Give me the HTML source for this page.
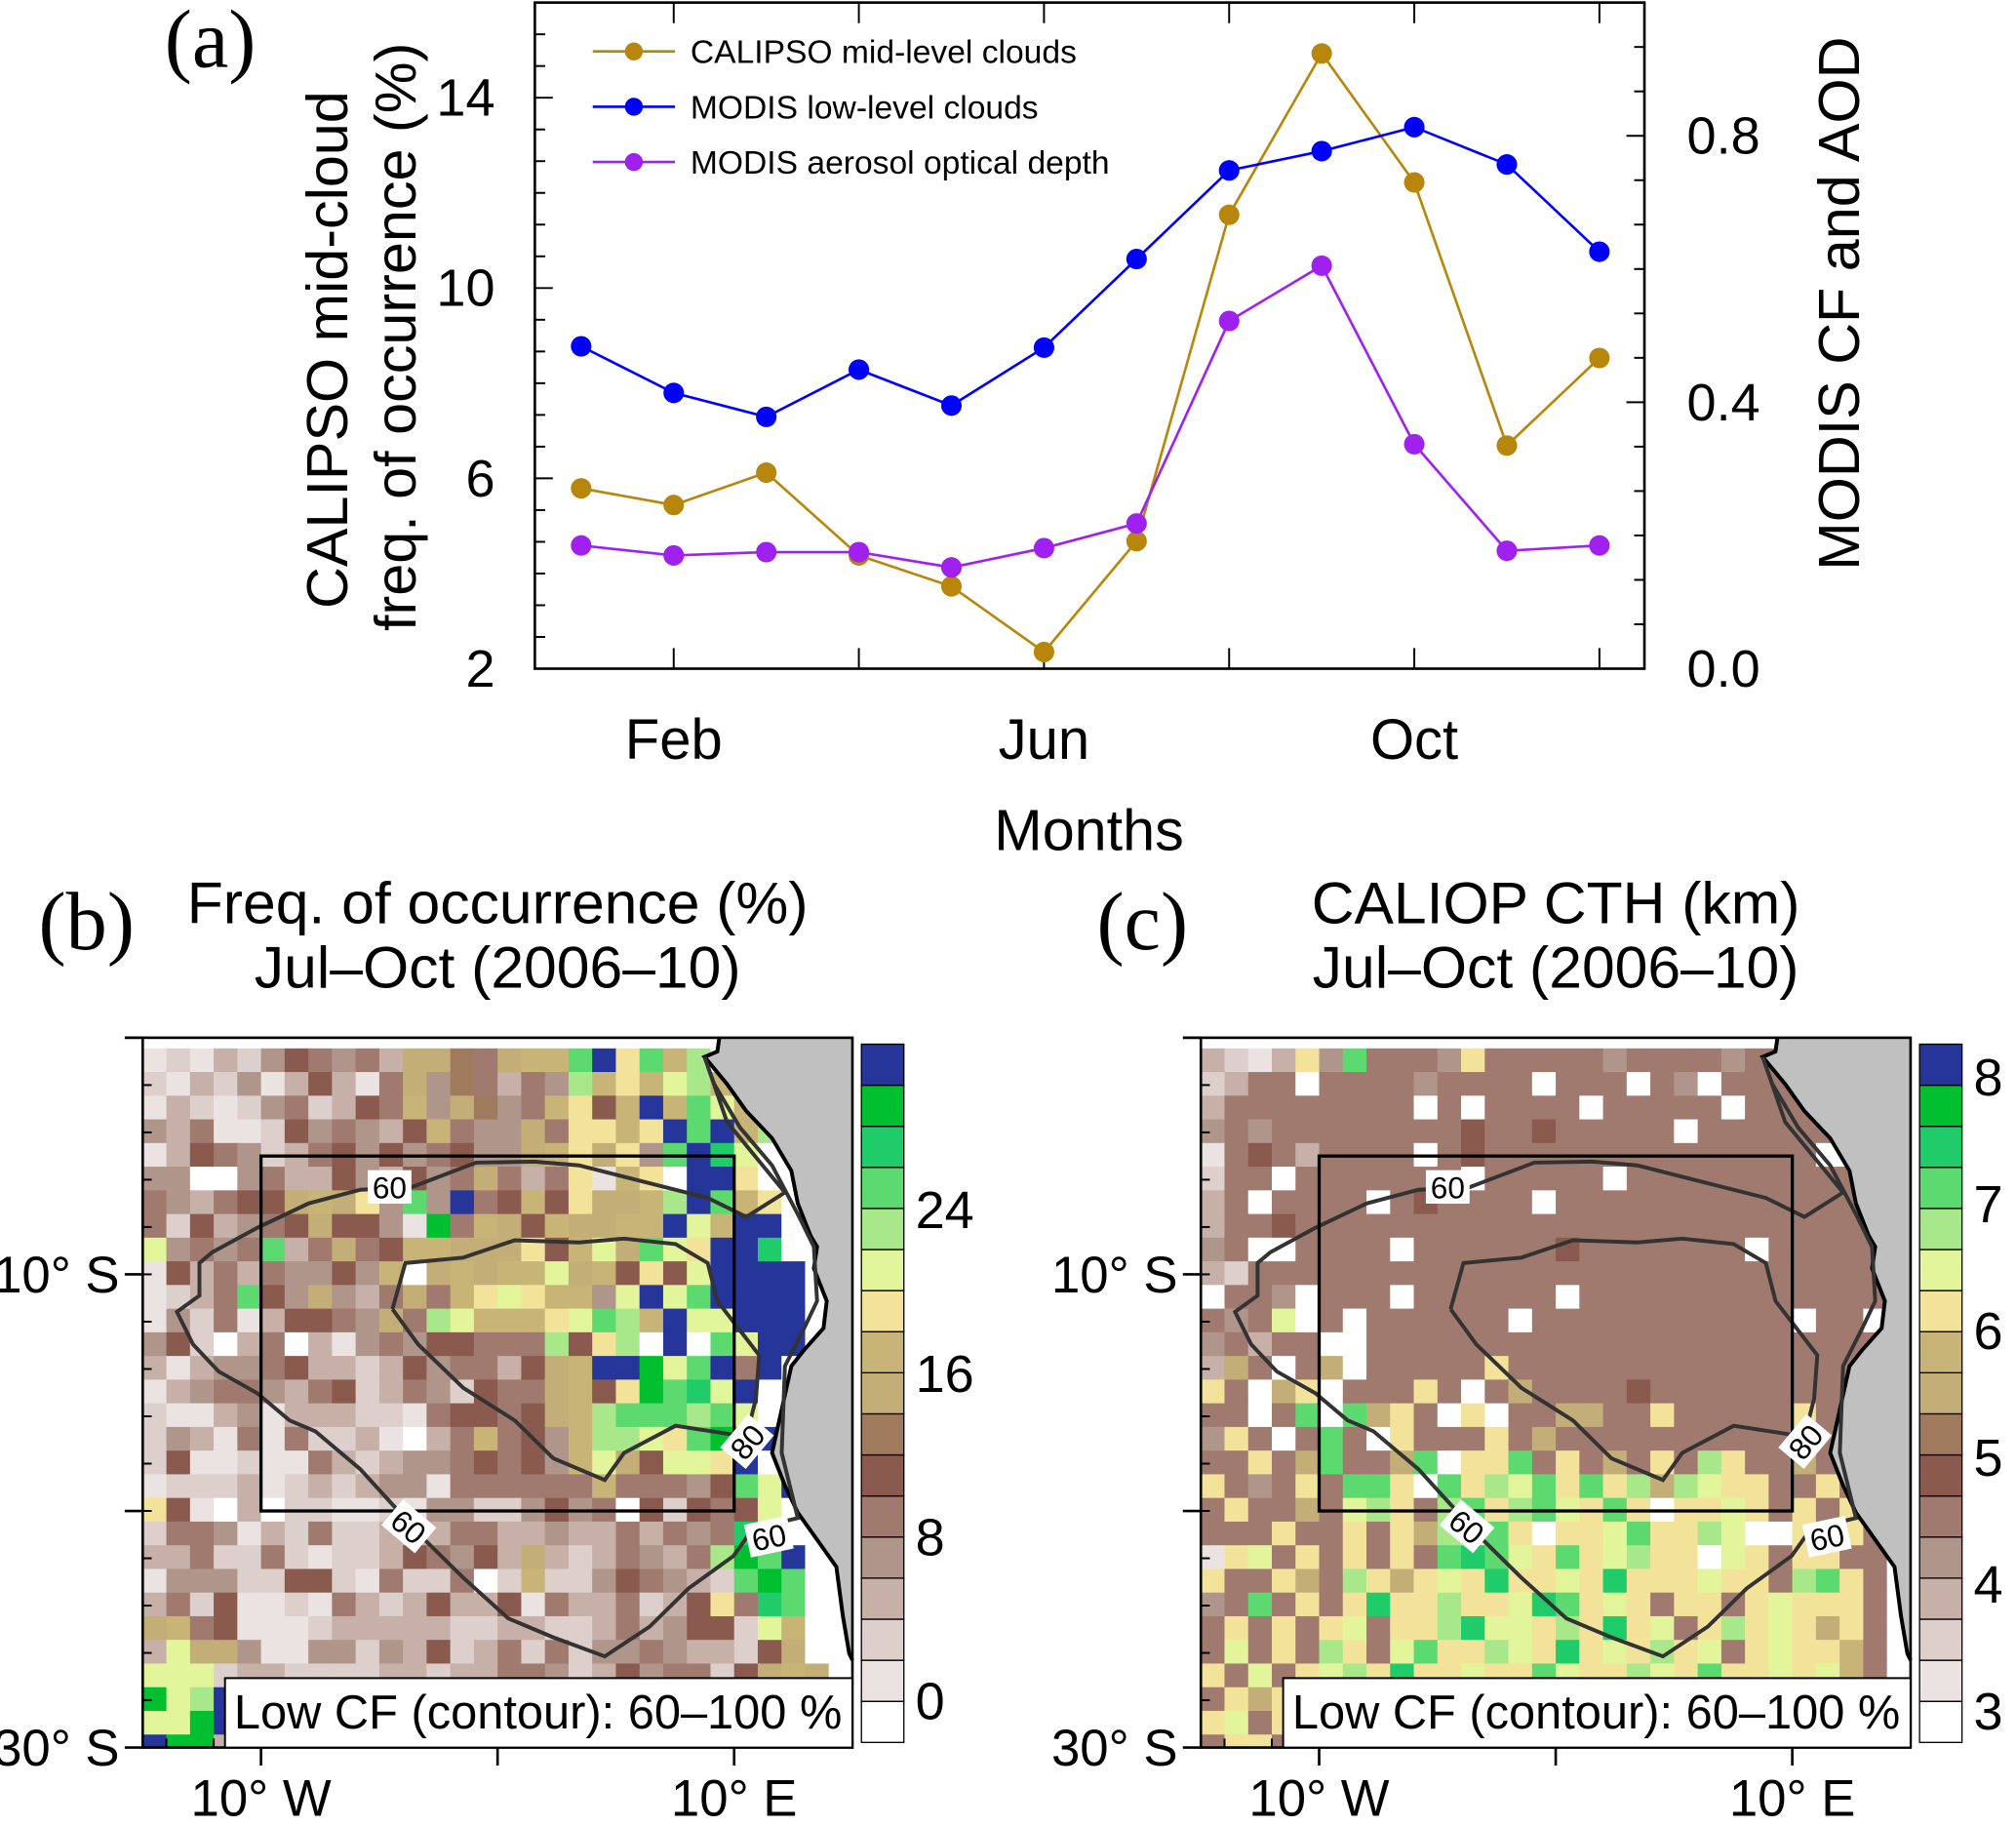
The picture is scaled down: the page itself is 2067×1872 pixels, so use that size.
<!DOCTYPE html>
<html><head><meta charset="utf-8"><style>
html,body{margin:0;padding:0;background:#fff;}
svg{display:block;font-family:"Liberation Sans",sans-serif;}
</style></head><body>
<svg id="fig" width="2067" height="1872" viewBox="0 0 1568 1420" preserveAspectRatio="none" xmlns="http://www.w3.org/2000/svg"></svg>
<script>
// ---------- Panel (a) data ----------
const months = ["Jan","Feb","Mar","Apr","May","Jun","Jul","Aug","Sep","Oct","Nov","Dec"];
const calipsoMid = [5.79,5.44,6.12,4.38,3.73,2.35,4.68,11.54,14.93,12.22,6.69,8.53];
const modisLowCF = [0.484,0.414,0.378,0.449,0.395,0.482,0.615,0.748,0.777,0.813,0.757,0.626];
const modisAOD = [0.185,0.170,0.175,0.175,0.152,0.181,0.218,0.522,0.605,0.337,0.177,0.185];
const leftTicks = [2,6,10,14];
const rightTicks = [0.0,0.4,0.8];
const monthLabels = ["Feb","Jun","Oct"];
// ---------- Panel (b)/(c) grid data (level index per 1° cell, rows from north) ----------
const freqRows = [
"121324654538875899dgad9c000000","213241363158475354c9a9bc9d0000","132124523659487459a69g9db90000",
"435112645436954485aa9agdg9c000","136542356464564489a8a4dgeb0000","440045336436458535a19a0gga0000",
"543566898a4d4g5696a889cgd9a000","526345686641f598698899gb9gg000","b4545d3585699888a69b8dbagge000",
"16353544649089899b896a6bgggg00","1235d648435859aba994bgbdgggg00","142513665485cb999abdc9gbbggg00",
"46203503145466555c6ac0g0dbgg00","3134456332364553689ggfbdg5g000","13455435623542655896afdebg0000",
"2113413332215665689cdddcdb0000","2431515223103595649ccbadfdg000","2611211532344565649b86bbag0000",
"1222312323441555555955546dbg00","a6103022112144224645062656b000","2554132522333553343353545ed000",
"335225212236546383235435cfdg00","1444226621522502922465432dfd00","352611215323633615335236a5ed00",
"89561112333332233223534662b900","3b8841144243623525244543326800","bbb233222233233554236455268980",
"fbcg33333333333333333333333330","bbfg33333333333333333333333330","gff333333333333333333333333330"];
const cthRows = [
"3213a4d5554a555554555545555000","2355055554555505550540555a5000","3555555550505555055555055550000",
"4545555555565565555505555555000","1565355550565555555555555500000","2550555555505555505555555555500",
"3505555056555505555555555555500","3556555555555555555555555555500","4500555505555556555555505555500",
"3255555555555555555555555555500","0554055505555550555555555555500","545b0505555550555555555550550",
"4535500555555555555555555555550","385058055555a555555555555555550","a508a0555a50585555655555555550",
"5505d0d8a50a0558855a55555a5550","4a505d50a555a585555555555a5550","55a58d558d0aad5a585a5ca5585555",
"a545a5dda0dacbdadac8cbaa55a550","5a5585bca5cdacdbada0aaba5a5a50","555a55a5a8cbda0aabdaacb00a5a50",
"1ab5a5a5a5dedbadabcaa0ba5aa550","a55a85ca8abaeaabaeaaabaa5cda50","45d5a5aeaacaabedaba5aa5abaaa50",
"5a5a5ab5aacebbacaeab5acaba8a50","5b5a5ca5bdaacbaeabacab5abaa950","a5b5abcaeaabaadbaacbadaabab950",
"5a8abaaaaaaaaaaaaaaaaaaaaaaa50","ab5aaaaaaaaaaaaaaaaaaaaaaaaa50","5aa5aaaaaaaaaaaaaaaaaaaaaaaa50"];
const cbFreqLabels = ["0","8","16","24"];
const cbCthLabels = ["3","4","5","6","7","8"];

const palette = ["#ffffff","#ebe3e1","#dccfcc","#c6b0a8","#b0958a","#a07a6e","#8b5a4f","#a07a5c",
"#c4ae78","#c9b478","#f3e39a","#e3f59a","#a8e88a","#5cd96f","#20cc6a","#00c030","#25359a"];

const NS="http://www.w3.org/2000/svg";
const svg=document.getElementById('fig');
function mk(tag,attrs,parent,text){const e=document.createElementNS(NS,tag);for(const k in attrs)e.setAttribute(k,attrs[k]);if(text!==undefined)e.textContent=text;(parent||svg).appendChild(e);return e;}

// ---------- Panel (a) ----------
const A={x0:416,x1:1279,y0:2,y1:520};
const xM=i=>452+72*i;
const yL=v=>A.y1-(v-2)*(A.y1-A.y0)/14;
const yR=v=>A.y1-v*(A.y1-A.y0)/1.0;
const ga=mk('g',{});

const fr=mk('rect',{x:A.x0,y:A.y0,width:A.x1-A.x0,height:A.y1-A.y0,fill:'none',stroke:'#000','stroke-width':2},ga);

for(let k=0;k<=21;k++){const v=2+k*2/3;const y=yL(v);if(y<A.y0)break;const major=Math.abs((v-2)%4)<1e-6||Math.abs((v-2)%4-4)<1e-6;
 mk('line',{x1:A.x0,x2:A.x0+(major?14:8),y1:y,y2:y,stroke:'#000','stroke-width':1.5},ga);}
for(const t of leftTicks){const e=mk('text',{x:385,y:yL(t)+14,'font-size':41,'text-anchor':'end'},ga,String(t));}
for(let k=0;k<=15;k++){const v=k/15;const y=yR(v);const major=k%6===0;
 mk('line',{x1:A.x1,x2:A.x1-(major?14:8),y1:y,y2:y,stroke:'#000','stroke-width':1.5},ga);}
for(const t of rightTicks){const e=mk('text',{x:1312,y:yR(t)+14,'font-size':41},ga,t.toFixed(1));}
for(let i=1;i<12;i+=2){const x=xM(i);mk('line',{x1:x,x2:x,y1:A.y1,y2:A.y1-16,stroke:'#000','stroke-width':1.5},ga);mk('line',{x1:x,x2:x,y1:A.y0,y2:A.y0+16,stroke:'#000','stroke-width':1.5},ga);}
for(const m of monthLabels){const i=months.indexOf(m);const e=mk('text',{x:xM(i),y:590,'font-size':44,'text-anchor':'middle'},ga,m);}
let e;
e=mk('text',{x:847,y:661,'font-size':45,'text-anchor':'middle'},ga,'Months');
e=mk('text',{transform:'translate(270,272) rotate(-90)','font-size':45,'text-anchor':'middle'},ga,'CALIPSO mid-cloud');
e=mk('text',{transform:'translate(323,262) rotate(-90)','font-size':45,'text-anchor':'middle'},ga,'freq. of occurrence (%)');
e=mk('text',{transform:'translate(1446,236) rotate(-90)','font-size':45,'text-anchor':'middle'},ga,'MODIS CF and AOD');
e=mk('text',{x:128,y:52,'font-size':64,'font-family':'Liberation Serif, serif'},ga,'(a)');
const series=[{n:'calipso-mid-level-clouds',d:calipsoMid,s:yL,c:'#b8860b',lab:'CALIPSO mid-level clouds'},
{n:'modis-low-level-clouds',d:modisLowCF,s:yR,c:'#0000ff',lab:'MODIS low-level clouds'},
{n:'modis-aerosol-optical-depth',d:modisAOD,s:yR,c:'#a020f0',lab:'MODIS aerosol optical depth'}];
series.forEach((S,si)=>{
 const g=mk('g',{},ga);
 const pts=S.d.map((v,i)=>xM(i)+','+S.s(v)).join(' ');
 mk('polyline',{points:pts,fill:'none',stroke:S.c,'stroke-width':2},g);
 S.d.forEach((v,i)=>{const c=mk('circle',{cx:xM(i),cy:S.s(v),r:8,fill:S.c},g);});
 const ly=40+43*si;const lg=mk('g',{},ga);
 mk('line',{x1:461,x2:525,y1:ly,y2:ly,stroke:S.c,'stroke-width':2},lg);mk('circle',{cx:493,cy:ly,r:7,fill:S.c},lg);
 mk('text',{x:537,y:ly+9,'font-size':25.5},lg,S.lab);
});

// ---------- Map panels ----------
const coast=[[1118,115],[1115,140],[1095,150],[1130,200],[1160,250],[1200,300],[1230,360],[1240,420],[1260,480],[1270,500],[1265,540],[1285,600],[1280,650],[1250,690],[1230,720],[1215,800],[1200,880],[1220,940],[1240,990],[1270,1040],[1300,1090],[1310,1180],[1320,1250],[1325,1262]];
const outer=[[1095,150],[1130,270],[1220,400],[1160,445],[1100,410],[1000,380],[900,350],[830,343],[740,345],[640,390],[560,395],[480,420],[400,465],[330,510],[310,530],[310,590],[275,620],[300,680],[340,730],[400,770],[450,820],[490,840],[560,910],[610,975],[660,1040],[720,1110],[790,1185],[860,1220],[940,1255],[1010,1200],[1070,1130],[1140,1070],[1170,1020],[1240,1000],[1215,880],[1220,720],[1250,650],[1270,600],[1265,500],[1240,440],[1200,350],[1150,280],[1110,200],[1095,150]];
const inner=[[610,615],[630,530],[720,520],[800,488],[900,492],[970,485],[1050,495],[1100,530],[1115,600],[1180,700],[1175,780],[1160,850],[1050,830],[970,880],[940,930],[860,890],[800,820],[720,760],[650,680],[610,615]];
function drawMap(ox,rows,name,title1,cbLabels,cbLabelY,panelLab){
 const g=mk('g',{});
 const mx0=111+ox,mx1=663+ox,my0=807,my1=1359;
 const lonX=lon=>mx0+(lon+15)*(mx1-mx0)/30;
 const latY=lat=>my0+lat*(my1-my0)/30;
 const tx=p=>(p[0]*0.5004+ox)+','+(p[1]*0.4219+758.6);
 mk('rect',{x:mx0,y:my0,width:mx1-mx0,height:my1-my0,fill:'#fff'},g);
 const cg=mk('g',{},g);
 rows.forEach((r,ri)=>{for(let ci=0;ci<30;ci++){const ch=r[ci]||'1';const lv=parseInt(ch,17);
  const y0=Math.max(my0,latY(ri+0.45)),y1=Math.min(my1,latY(ri+1.45));if(y1<=y0)continue;
  mk('rect',{x:lonX(ci-15),y:y0,width:lonX(ci-14)-lonX(ci-15)+0.4,height:y1-y0+0.4,fill:palette[lv]},cg);}});
 const land=mk('polygon',{points:coast.map(tx).join(' ')+' '+(mx1)+','+my0,fill:'#c0c0c0'},g);
 mk('polyline',{points:coast.map(tx).join(' '),fill:'none',stroke:'#000','stroke-width':3},g);
 mk('polyline',{points:outer.map(tx).join(' '),fill:'none',stroke:'#333','stroke-width':3},g);
 mk('polyline',{points:inner.map(tx).join(' '),fill:'none',stroke:'#333','stroke-width':3},g);
 mk('rect',{x:lonX(-10),y:latY(5),width:lonX(10)-lonX(-10),height:latY(20)-latY(5),fill:'none',stroke:'#000','stroke-width':2.5},g);
 [[303,923,0,'60'],[318,1187,40,'60'],[598,1195,-12,'60'],[581,1121,-50,'80']].forEach(L=>{
  const lg=mk('g',{transform:`translate(${L[0]+ox},${L[1]}) rotate(${L[2]})`},g);
  mk('rect',{x:-17,y:-13,width:34,height:26,fill:'#fff'},lg);mk('text',{x:0,y:9,'font-size':24,'text-anchor':'middle'},lg,L[3]);});
 mk('rect',{x:mx0,y:my0,width:mx1-mx0,height:my1-my0,fill:'none',stroke:'#000','stroke-width':2},g);
 for(let lat=2;lat<30;lat+=2){const y=latY(lat);mk('line',{x1:mx0,x2:mx0+7,y1:y,y2:y,stroke:'#000','stroke-width':1.5},g);}
 for(let lat=0;lat<=30;lat+=10){const y=latY(lat);mk('line',{x1:mx0-14,x2:mx0,y1:y,y2:y,stroke:'#000','stroke-width':2},g);}
 for(let lon=-14;lon<=14;lon+=2){const x=lonX(lon);mk('line',{x1:x,x2:x,y1:my1,y2:my1-7,stroke:'#000','stroke-width':1.5},g);}
 for(let lon=-10;lon<=10;lon+=10){const x=lonX(lon);mk('line',{x1:x,x2:x,y1:my1,y2:my1+14,stroke:'#000','stroke-width':2},g);}
 [[10,'10° S'],[30,'30° S']].forEach(L=>{const t=mk('text',{x:mx0-18,y:latY(L[0])+14,'font-size':40,'text-anchor':'end'},g,L[1]);});
 [[-10,'10° W'],[10,'10° E']].forEach(L=>{const t=mk('text',{x:lonX(L[0]),y:1412,'font-size':40,'text-anchor':'middle'},g,L[1]);});
 const lb=mk('g',{},g);
 mk('rect',{x:175+ox,y:1305,width:488,height:54,fill:'#fff',stroke:'#000','stroke-width':1.5},lb);
 mk('text',{x:182+ox,y:1344,'font-size':37},lb,'Low CF (contour): 60–100 %');
 const cb=mk('g',{},g);
 const cbx=670+ox,cbTop=812,cbBot=1355,h=(cbBot-cbTop)/17;
 for(let k=0;k<17;k++){mk('rect',{x:cbx,y:cbBot-(k+1)*h,width:33,height:h,fill:palette[k],stroke:'#000','stroke-width':1},cb);}
 cbLabels.forEach((L,i)=>{const t=mk('text',{x:cbx+42,y:cbLabelY(i)+14,'font-size':41},cb,L);});
 const cx=(mx0+mx1)/2;
 e=mk('text',{x:cx,y:718,'font-size':46,'text-anchor':'middle'},g,title1);
 e=mk('text',{x:cx,y:768,'font-size':46,'text-anchor':'middle'},g,'Jul–Oct (2006–10)');
 e=mk('text',{x:30+ox,y:738,'font-size':64,'font-family':'Liberation Serif, serif'},g,panelLab);
}
drawMap(0,freqRows,'panel-b-frequency-map','Freq. of  occurrence (%)',cbFreqLabels,i=>1323-127.3*i,'(b)');
drawMap(823,cthRows,'panel-c-cth-map','CALIOP CTH (km)',cbCthLabels,i=>1331-98.6*i,'(c)');
</script>
</body></html>
